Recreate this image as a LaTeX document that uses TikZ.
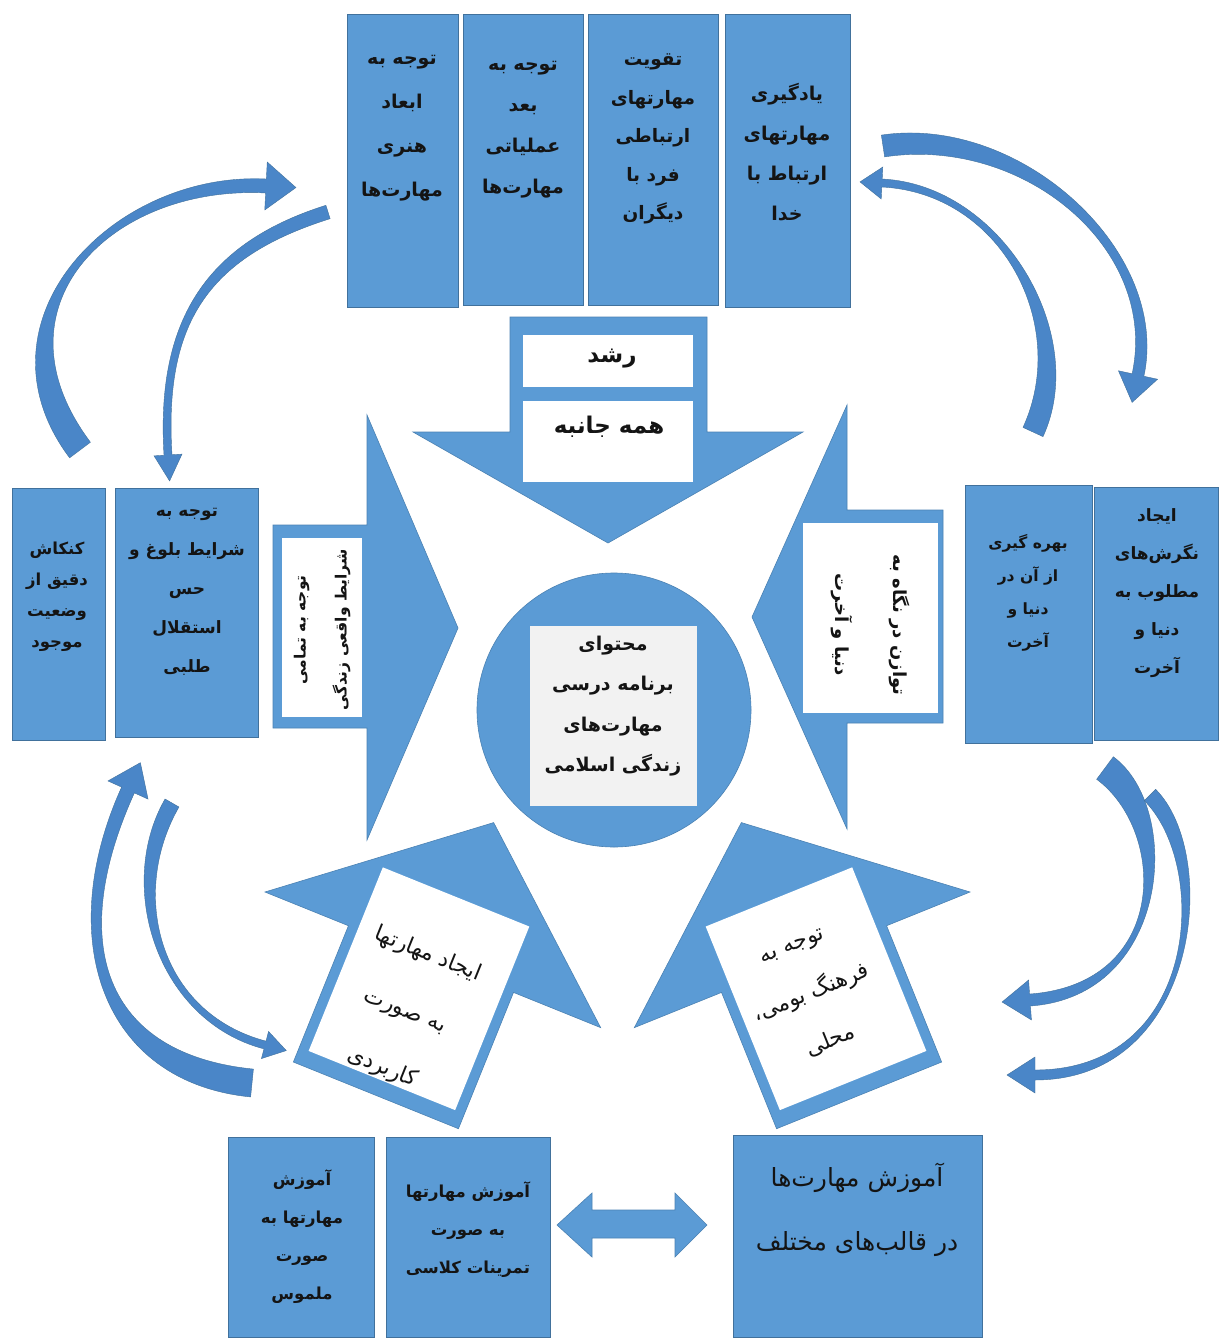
\documentclass[tikz,border=0pt]{standalone}
\usepackage{fontspec}
\usetikzlibrary{calc}
\newfontfamily\fa[Script=Arabic]{DejaVu Sans}
\TeXXeTstate=1
\newcommand\rl[1]{\beginR #1\endR}
\newcommand\zw{^^^^200c}
\definecolor{boxblue}{HTML}{5B9BD5}
\definecolor{boxedge}{HTML}{41719C}
\definecolor{curveblue}{HTML}{4A86C8}
\definecolor{txt}{HTML}{141414}
\definecolor{panel}{HTML}{F2F2F2}
\tikzset{
  bluebox/.style={draw=boxedge, fill=boxblue, line width=1pt, inner sep=0pt, anchor=north west},
  shapefill/.style={fill=boxblue, draw=boxedge!60!boxblue, line width=0.6pt},
  whitefill/.style={fill=white, inner sep=0pt},
  curvefill/.style={fill=curveblue, draw=boxedge, line width=0.4pt},
  btxt/.style n args={2}{font=\fa\bfseries\fontsize{#1}{#2}\selectfont, text=txt, align=center, inner sep=0pt},
  rtxt/.style n args={2}{font=\fa\fontsize{#1}{#2}\selectfont, text=txt, align=center, inner sep=0pt},
}
% tapered curved arrow: #1 prefix of coordinates #10..#13, #2 tail half width, #3 end half width, #4 head half width, #5 head length
\newcommand\taper[5]{%
  \path[curvefill] ($(#10)!#2!90:(#11)$) .. controls ($(#11)!#2!-90:(#10)$) and ($(#12)!#3!90:(#13)$) .. ($(#13)!#3!-90:(#12)$)
    -- ($(#13)!#4!-90:(#12)$) -- ($(#13)!-#5!(#12)$) -- ($(#13)!#4!90:(#12)$) -- ($(#13)!#3!90:(#12)$)
    .. controls ($(#12)!#3!-90:(#13)$) and ($(#11)!#2!90:(#10)$) .. ($(#10)!#2!-90:(#11)$) -- cycle;}
\begin{document}
\begin{tikzpicture}[x=1pt,y=-1pt]
\useasboundingbox (0,0) rectangle (1219,1338);
\fill[white] (0,0) rectangle (1219,1338);

% ---------- top boxes ----------
\node[bluebox, minimum width=111pt, minimum height=293pt] (top1) at (347,14) {};
\node[bluebox, minimum width=120pt, minimum height=291pt] (top2) at (463,14) {};
\node[bluebox, minimum width=130pt, minimum height=291pt] (top3) at (588,14) {};
\node[bluebox, minimum width=125pt, minimum height=293pt] (top4) at (725,14) {};
\node[btxt={19}{44}] (top1t) at (402,128) {\rl{توجه به}\\\rl{ابعاد}\\\rl{هنری}\\\rl{مهارت\zw ها}};
\node[btxt={19}{41}] (top2t) at (523,130) {\rl{توجه به}\\\rl{بعد}\\\rl{عملیاتی}\\\rl{مهارت\zw ها}};
\node[btxt={18.5}{38.5}] (top3t) at (653,139) {\rl{تقویت}\\\rl{مهارتهای}\\\rl{ارتباطی}\\\rl{فرد با}\\\rl{دیگران}};
\node[btxt={19}{40}] (top4t) at (787,152) {\rl{یادگیری}\\\rl{مهارتهای}\\\rl{ارتباط با}\\\rl{خدا}};

% ---------- side boxes ----------
\node[bluebox, minimum width=93pt, minimum height=252pt] (left1) at (12,488) {};
\node[bluebox, minimum width=143pt, minimum height=249pt] (left2) at (115,488) {};
\node[btxt={16.5}{31}] (left1t) at (57,597) {\rl{کنکاش}\\\rl{دقیق از}\\\rl{وضعیت}\\\rl{موجود}};
\node[btxt={17}{39}] (left2t) at (187,592) {\rl{توجه به}\\\rl{شرایط بلوغ و}\\\rl{حس}\\\rl{استقلال}\\\rl{طلبی}};
\node[bluebox, minimum width=127pt, minimum height=258pt] (right1) at (965,485) {};
\node[bluebox, minimum width=124pt, minimum height=253pt] (right2) at (1094,487) {};
\node[btxt={15.5}{33}] (right1t) at (1028,593) {\rl{بهره گیری}\\\rl{از آن در}\\\rl{دنیا و}\\\rl{آخرت}};
\node[btxt={17}{38}] (right2t) at (1157,593) {\rl{ایجاد}\\\rl{نگرش\zw های}\\\rl{مطلوب به}\\\rl{دنیا و}\\\rl{آخرت}};

% ---------- down arrow ----------
\path[shapefill] (510,317) -- (707,317) -- (707,432) -- (803,432) -- (608,543) -- (413,432) -- (510,432) -- cycle;
\node[whitefill, minimum width=170pt, minimum height=52pt] (growthbox) at (608,361) {};
\node[whitefill, minimum width=170pt, minimum height=81pt] (allbox) at (608,441.5) {};
\node[btxt={23}{26}] (growth) at (612,359) {\rl{رشد}};
\node[btxt={23}{26}] (allside) at (609,427) {\rl{همه جانبه}};

% ---------- left arrow ----------
\path[shapefill] (273,525) -- (367,525) -- (367,415) -- (458,628) -- (367,840) -- (367,728) -- (273,728) -- cycle;
\node[whitefill, minimum width=80pt, minimum height=179pt] (leftwhite) at (322,627.5) {};
\node[btxt={15.5}{41}, rotate=90] (leftarrowt) at (322,630) {\rl{توجه به تمامی}\\\rl{شرایط واقعی زندگی}};

% ---------- right arrow ----------
\path[shapefill] (943,510) -- (847,510) -- (847,405) -- (752,617) -- (847,829) -- (847,723) -- (943,723) -- cycle;
\node[whitefill, minimum width=135pt, minimum height=190pt] (rightwhite) at (870.5,618) {};
\node[btxt={18}{58}, rotate=-90] (rightarrowt) at (870,625) {\rl{توازن در نگاه به}\\\rl{دنیا و آخرت}};

% ---------- centre ----------
\node[circle, fill=boxblue, draw=boxedge!60!boxblue, line width=0.6pt, minimum size=274pt, inner sep=0pt] (hub) at (614,710) {};
\node[fill=panel, inner sep=0pt, minimum width=167pt, minimum height=180pt] (hubpanel) at (613.5,716) {};
\node[btxt={19}{40.5}] (hubt) at (613,706) {\rl{محتوای}\\\rl{برنامه درسی}\\\rl{مهارت\zw های}\\\rl{زندگی اسلامی}};

% ---------- bottom-left arrow ----------
\begin{scope}[shift={(265,892)}, rotate=-22]
  \path[shapefill] (0,0) -- (90,0) -- (90,147) -- (268,147) -- (268,0) -- (362,0) -- (186,-150) -- cycle;
  \path[fill=white] (100,-67) rectangle (258,131);
\end{scope}
\node[rtxt={22}{61}, rotate=-22] (blt) at (405,1011) {\rl{ایجاد مهارتها}\\\rl{به صورت}\\\rl{کاربردی}};

% ---------- bottom-right arrow ----------
\begin{scope}[shift={(970,892)}, rotate=22, xscale=-1]
  \path[shapefill] (0,0) -- (90,0) -- (90,147) -- (268,147) -- (268,0) -- (362,0) -- (186,-150) -- cycle;
  \path[fill=white] (100,-67) rectangle (258,131);
\end{scope}
\node[rtxt={22}{52}, rotate=22] (brt) at (812,995) {\rl{توجه به}\\\rl{فرهنگ بومی،}\\\rl{محلی}};

% ---------- curved arrows ----------
\coordinate (A0) at (80,450);   \coordinate (A1) at (-22,314); \coordinate (A2) at (112,178);  \coordinate (A3) at (266,186);
\coordinate (B0) at (328,212);  \coordinate (B1) at (204,251); \coordinate (B2) at (160,325);  \coordinate (B3) at (168,455);
\coordinate (C0) at (883,146);  \coordinate (C1) at (1022,125);\coordinate (C2) at (1165,250); \coordinate (C3) at (1138,375);
\coordinate (D0) at (1033,432); \coordinate (D1) at (1080,330);\coordinate (D2) at (1002,189); \coordinate (D3) at (882,183);
\coordinate (E0) at (252,1083); \coordinate (E1) at (102,1068);\coordinate (E2) at (60,940);   \coordinate (E3) at (128,790);
\coordinate (F0) at (172,803);  \coordinate (F1) at (122,890); \coordinate (F2) at (158,1017); \coordinate (F3) at (265,1045);
\coordinate (G0) at (1105,768); \coordinate (G1) at (1175,820);\coordinate (G2) at (1170,990); \coordinate (G3) at (1030,1000);
\coordinate (H0) at (1150,795); \coordinate (H1) at (1215,860);\coordinate (H2) at (1200,1075);\coordinate (H3) at (1035,1075);
\taper{A}{13pt}{7pt}{24pt}{30pt}
\taper{B}{7pt}{4pt}{14pt}{26pt}
\taper{C}{11pt}{6pt}{20pt}{28pt}
\taper{D}{11pt}{4pt}{16pt}{22pt}
\taper{E}{14pt}{7pt}{22pt}{30pt}
\taper{F}{8pt}{4pt}{14pt}{22pt}
\taper{G}{14pt}{6pt}{20pt}{28pt}
\taper{H}{8pt}{5pt}{18pt}{28pt}

% ---------- bottom boxes ----------
\node[bluebox, minimum width=146pt, minimum height=200pt] (bot1) at (228,1137) {};
\node[bluebox, minimum width=164pt, minimum height=200pt] (bot2) at (386,1137) {};
\node[bluebox, minimum width=249pt, minimum height=202pt] (bot3) at (733,1135) {};
\node[btxt={16.5}{38}] (bot1t) at (302,1237) {\rl{آموزش}\\\rl{مهارتها به}\\\rl{صورت}\\\rl{ملموس}};
\node[btxt={16.5}{38}] (bot2t) at (468,1230) {\rl{آموزش مهارتها}\\\rl{به صورت}\\\rl{تمرینات کلاسی}};
\node[rtxt={25}{64}] (bot3t) at (857,1210) {\rl{آموزش مهارت\zw ها}\\\rl{در قالب\zw های مختلف}};
\path[shapefill] (557,1225) -- (592,1193) -- (592,1210) -- (675,1210) -- (675,1193) -- (707,1225)
  -- (675,1257) -- (675,1238) -- (592,1238) -- (592,1257) -- cycle;
\end{tikzpicture}
\end{document}
